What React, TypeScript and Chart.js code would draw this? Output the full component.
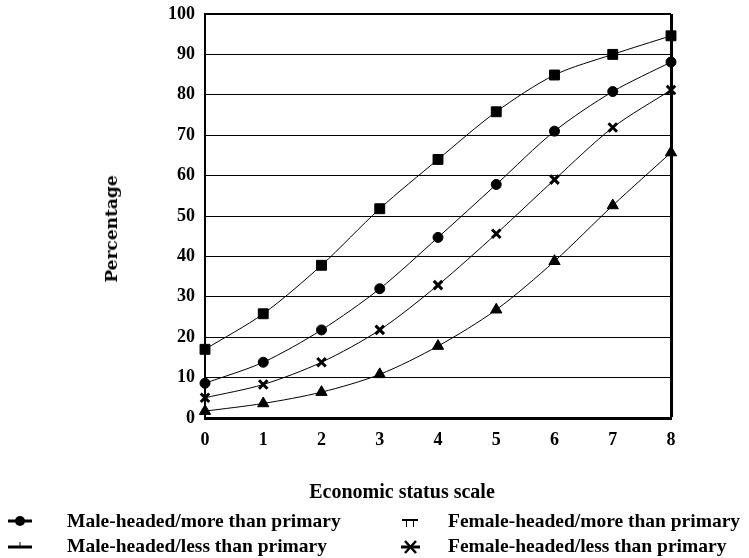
import React, { useEffect, useRef } from "react";
import { Chart, registerables } from "chart.js";

Chart.register(...registerables);

const categories = [0, 1, 2, 3, 4, 5, 6, 7, 8];
const femaleMore = [17, 25.8, 37.8, 51.8, 64, 75.8, 84.9, 90, 94.6];
const maleMore = [8.6, 13.8, 21.8, 32, 44.7, 57.8, 71, 80.8, 88.1];
const femaleLess = [5, 8.3, 13.8, 21.8, 32.9, 45.6, 59, 71.9, 81.2];
const maleLess = [1.7, 3.6, 6.4, 10.8, 17.8, 26.8, 38.8, 52.6, 65.7];
const yTicks = [0, 10, 20, 30, 40, 50, 60, 70, 80, 90, 100];

const seriesLabels = [
  "Male-headed/more than primary",
  "Male-headed/less than primary",
  "Female-headed/more than primary",
  "Female-headed/less than primary",
];

const FONT = "'Liberation Serif', 'Times New Roman', serif";

export default function App() {
  const ref = useRef<HTMLCanvasElement | null>(null);

  useEffect(() => {
    if (!ref.current) return;
    const toPts = (arr: number[]) => categories.map((c, i) => ({ x: c, y: arr[i] }));
    const base = {
      borderColor: "#000",
      backgroundColor: "#000",
      borderWidth: 1,
      tension: 0.3,
      pointBorderColor: "#000",
      pointBackgroundColor: "#000",
      clip: false as any,
    };
    const chart = new Chart(ref.current, {
      type: "line",
      data: {
        datasets: [
          { ...base, label: seriesLabels[2], data: toPts(femaleMore), pointStyle: "rect", pointRadius: 7, pointBorderWidth: 1 },
          { ...base, label: seriesLabels[0], data: toPts(maleMore), pointStyle: "circle", pointRadius: 5, pointBorderWidth: 1 },
          { ...base, label: seriesLabels[3], data: toPts(femaleLess), pointStyle: "crossRot", pointRadius: 6, pointBorderWidth: 3 },
          { ...base, label: seriesLabels[1], data: toPts(maleLess), pointStyle: "triangle", pointRadius: 6.5, pointBorderWidth: 1 },
        ],
      },
      options: {
        animation: false,
        responsive: false,
        layout: { padding: { top: 14, right: 78, left: 0, bottom: 0 } },
        plugins: { legend: { display: false }, tooltip: { enabled: false }, title: { display: false } },
        scales: {
          x: {
            type: "linear",
            min: 0,
            max: 8,
            afterFit: (s: any) => { s.height = 140; s.paddingLeft = 0; s.paddingRight = 0; },
            ticks: {
              stepSize: 1,
              color: "#000",
              padding: 12,
              font: { family: FONT, weight: "bold", size: 18 },
            },
            grid: {
              drawTicks: false,
              color: (c: any) => (c.tick && c.tick.value === 8 ? "#000" : "rgba(0,0,0,0)"),
              lineWidth: (c: any) => (c.tick && c.tick.value === 8 ? 3 : 1),
            },
            border: { display: true, color: "#000", width: 3 },
          },
          y: {
            min: 0,
            max: 100,
            afterFit: (s: any) => { s.width = 205; s.paddingTop = 0; s.paddingBottom = 0; },
            afterBuildTicks: (s: any) => { s.ticks = yTicks.map((v) => ({ value: v })); },
            ticks: {
              color: "#000",
              padding: 10,
              font: { family: FONT, weight: "bold", size: 18 },
            },
            grid: {
              drawTicks: false,
              color: "#000",
              lineWidth: (c: any) => (c.tick && c.tick.value === 100 ? 2 : 1),
            },
            border: { display: true, color: "#000", width: 2 },
          },
        },
      },
    });
    return () => chart.destroy();
  }, []);

  const textStyle: React.CSSProperties = {
    position: "absolute",
    fontFamily: FONT,
    fontWeight: "bold",
    fontSize: 19.5,
    color: "#000",
    whiteSpace: "nowrap",
    lineHeight: "20px",
  };

  return (
    <div style={{ position: "absolute", left: 0, top: 0, width: 749, height: 558, background: "#fff" }}>
      <canvas ref={ref} width={749} height={558} style={{ position: "absolute", left: 0, top: 0 }} />
      <div
        style={{
          ...textStyle,
          fontFamily: "'DejaVu Serif', serif",
          fontSize: 17,
          left: 111,
          top: 229,
          transform: "translate(-50%, -50%) rotate(-90deg)",
        }}
      >
        Percentage
      </div>
      <div style={{ ...textStyle, fontSize: 20, left: 402, top: 491, transform: "translate(-50%, -50%)" }}>
        Economic status scale
      </div>
      {/* Legend markers */}
      <svg width={749} height={60} style={{ position: "absolute", left: 0, top: 505 }}>
        <line x1={8} y1={16} x2={32} y2={16} stroke="#000" strokeWidth={3} />
        <circle cx={20} cy={16} r={5} fill="#000" />
        <line x1={8} y1={42} x2={32} y2={42} stroke="#000" strokeWidth={3} />
        <line x1={20} y1={37} x2={20} y2={42} stroke="#000" strokeWidth={1} />
        <line x1={402} y1={15} x2={418} y2={15} stroke="#000" strokeWidth={2} />
        <line x1={406.5} y1={15} x2={406.5} y2={22} stroke="#000" strokeWidth={1} />
        <line x1={413.5} y1={15} x2={413.5} y2={22} stroke="#000" strokeWidth={1} />
        <line x1={401} y1={42} x2={420} y2={42} stroke="#000" strokeWidth={3} />
        <line x1={405} y1={36} x2={416} y2={48} stroke="#000" strokeWidth={2.5} />
        <line x1={416} y1={36} x2={405} y2={48} stroke="#000" strokeWidth={2.5} />
      </svg>
      <div style={{ ...textStyle, left: 67, top: 521, transform: "translateY(-50%)" }}>{seriesLabels[0]}</div>
      <div style={{ ...textStyle, left: 67, top: 546, transform: "translateY(-50%)" }}>{seriesLabels[1]}</div>
      <div style={{ ...textStyle, left: 448, top: 521, transform: "translateY(-50%)" }}>{seriesLabels[2]}</div>
      <div style={{ ...textStyle, left: 448, top: 546, transform: "translateY(-50%)" }}>{seriesLabels[3]}</div>
    </div>
  );
}
